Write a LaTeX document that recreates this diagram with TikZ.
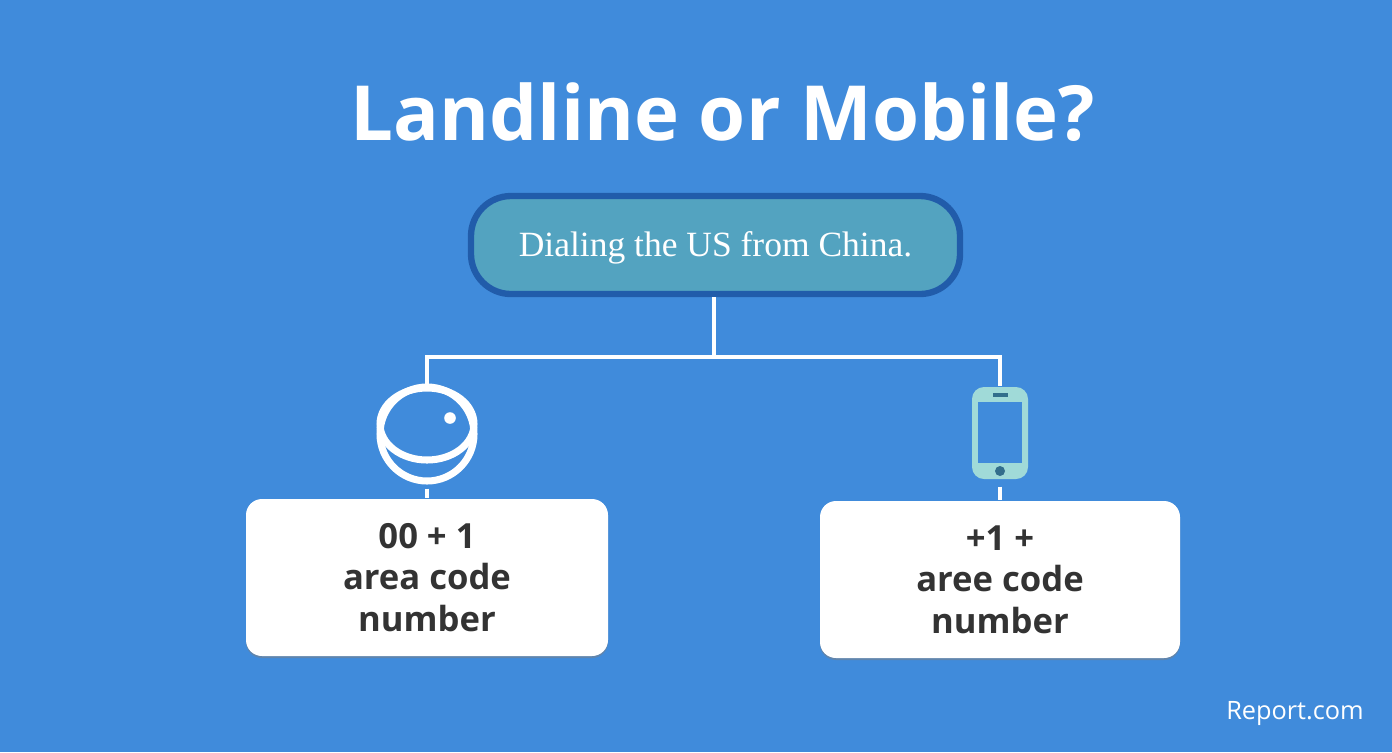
\documentclass[tikz,border=0pt]{standalone}
\usepackage{fontspec}
\setmainfont{Open Sans}
\newfontfamily\rootfont{Liberation Serif}
\usetikzlibrary{calc}
\usetikzlibrary{math}
\usetikzlibrary{shadows}
\definecolor{skyBlue}{RGB}{64, 139, 219}
\definecolor{rootFill}{RGB}{83, 163, 192}
\definecolor{rootEdge}{RGB}{33, 92, 170}
\definecolor{phoneTeal}{RGB}{160, 218, 216}
\definecolor{phoneDark}{RGB}{50, 110, 140}
\definecolor{textGrey}{RGB}{51, 51, 51}
\tikzset{
    rootbox/.style={draw=rootEdge, line width=1.8pt, fill=rootFill, rounded corners=0.40cm,
        minimum width=4.89cm, minimum height=0.98cm, text=white,
        text height=0.29cm, text depth=0.06cm,
        font=\rootfont\fontsize{10.1}{12}\selectfont},
    resultbox/.style={fill=white, rounded corners=0.16cm, minimum width=3.62cm, minimum height=1.57cm,
        align=center, text=textGrey, font=\bfseries\fontsize{9.85}{11.85}\selectfont,
        drop shadow={shadow xshift=0pt, shadow yshift=-0.02cm, opacity=0.5}},
    wire/.style={draw=white, line width=1.25pt},
}
\begin{document}
\begin{tikzpicture}
    \tikzmath {
        \picW = 13.92;
        \picH = 7.52;
        \splitY = 3.95;
        \landX = 4.27;
        \mobX = 10.00;
    }

    \fill[skyBlue] (0,0) rectangle (\picW, \picH);
    \useasboundingbox (0,0) rectangle (\picW, \picH);

    \node[text=white, font=\bfseries\fontsize{21.65}{26}\selectfont] (title) at (7.23, 6.40) {Landline or Mobile?};
    \node[rootbox] (root) at (7.155, 5.07) {Dialing the US from China.};

    \coordinate (split) at (7.14, \splitY);
    \coordinate (split_l) at (\landX, \splitY);
    \coordinate (split_r) at (\mobX, \splitY);

    % icons
    \node[draw=white, line width=2pt, circle, minimum size=0.94cm, inner sep=0pt] (landline) at (\landX, 3.18) {};
    \node[fill=phoneTeal, rounded corners=0.12cm, minimum width=0.56cm, minimum height=0.92cm, inner sep=0pt] (mobile) at (\mobX, 3.19) {};

    \draw[white, line width=2pt] (\landX, 3.28) ellipse (0.47 and 0.36);
    \fill[white] (4.50, 3.34) circle (0.058);

    \fill[skyBlue] ($(mobile.center) + (-0.22, -0.30)$) rectangle ($(mobile.center) + (0.22, 0.31)$);
    \draw[phoneDark, line width=1pt] ($(mobile.center) + (-0.07, 0.38)$) -- ($(mobile.center) + (0.08, 0.38)$);
    \fill[phoneDark] ($(mobile.center) + (0, -0.38)$) circle (0.05);

    \node[resultbox] (land_box) at (4.27, 1.745) {00 + 1\\area code\\number};
    \node[resultbox, minimum width=3.60cm] (mob_box) at (10.00, 1.725) {+1 +\\aree code\\number};

    \draw[wire] (split) -- (split |- root.south);
    \draw[wire] (landline.north) -- (split_l) -- (split_r) -- (mobile.north);
    \draw[wire] (landline.south) ++(0,-0.04) -- (land_box.north);
    \draw[wire] (mobile.south) ++(0,-0.07) -- (mob_box.north);

    \node[text=white, font=\fontsize{7.2}{9}\selectfont] (brand) at (12.95, 0.39) {Report.com};
\end{tikzpicture}
\end{document}
